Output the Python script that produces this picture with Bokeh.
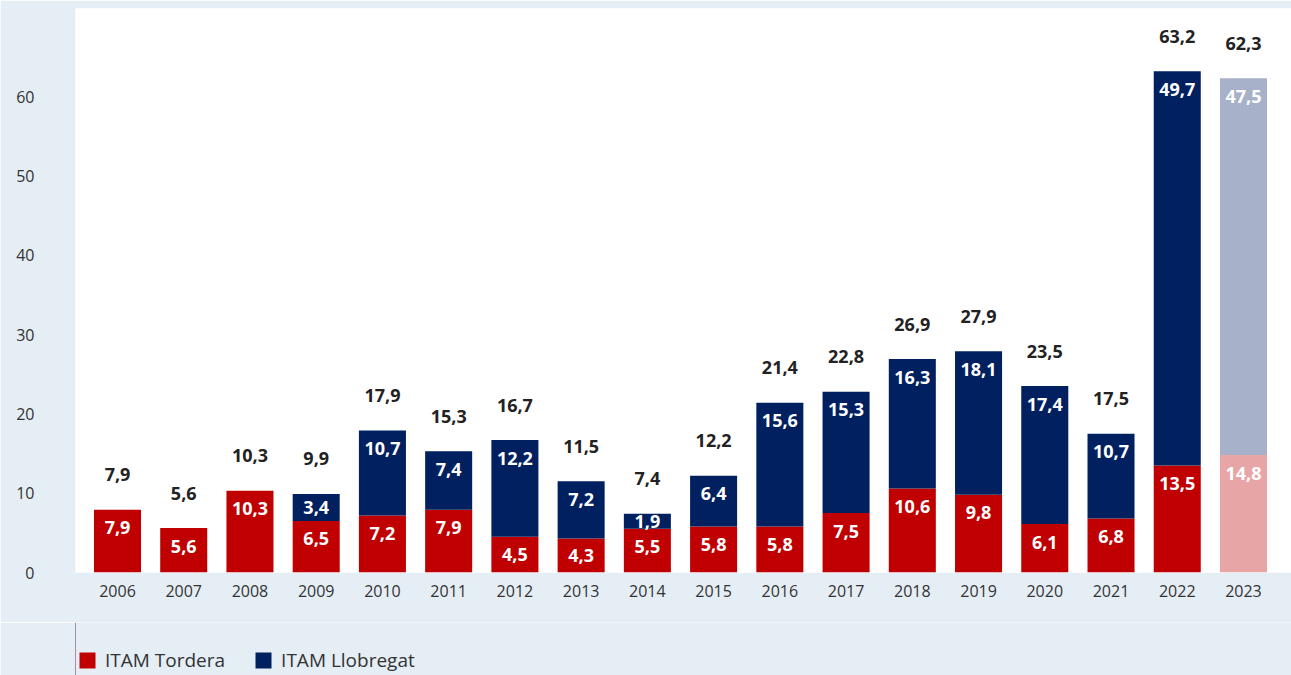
from bokeh.plotting import figure
from bokeh.models import ColumnDataSource, Range1d, FixedTicker, Legend, LegendItem
from bokeh.layouts import column
from bokeh.core.properties import value
from bokeh.embed import file_html
from bokeh.resources import INLINE

years = ["2006", "2007", "2008", "2009", "2010", "2011", "2012", "2013", "2014",
         "2015", "2016", "2017", "2018", "2019", "2020", "2021", "2022", "2023"]
tordera = [7.9, 5.6, 10.3, 6.5, 7.2, 7.9, 4.5, 4.3, 5.5, 5.8, 5.8, 7.5, 10.6, 9.8, 6.1, 6.8, 13.5, 14.8]
llobregat = [0, 0, 0, 3.4, 10.7, 7.4, 12.2, 7.2, 1.9, 6.4, 15.6, 15.3, 16.3, 18.1, 17.4, 10.7, 49.7, 47.5]
totals = [7.9, 5.6, 10.3, 9.9, 17.9, 15.3, 16.7, 11.5, 7.4, 12.2, 21.4, 22.8, 26.9, 27.9, 23.5, 17.5, 63.2, 62.3]
series_names = ["ITAM Tordera", "ITAM Llobregat"]
y_ticks = [0, 10, 20, 30, 40, 50, 60]
provisional_year = "2023"

RED, NAVY = "#c00000", "#00205f"
RED_L, NAVY_L = "#e8a5a6", "#a7b1c9"
BG = "#e5edf5"
FONT = "Open Sans"

YMAX = 71.1
FRAME_H = 564
FRAME_W = 1216
ppu = FRAME_H / YMAX

def fmt(v):
    return f"{v:.1f}".replace(".", ",")

xs = list(range(len(years)))
red_col = [RED_L if y == provisional_year else RED for y in years]
navy_col = [NAVY_L if y == provisional_year else NAVY for y in years]
top_all = [t + l for t, l in zip(tordera, llobregat)]

src = ColumnDataSource(dict(
    x=xs, t=tordera, top=top_all, rc=red_col, nc=navy_col,
))

p = figure(frame_width=FRAME_W, frame_height=FRAME_H, output_backend="svg", toolbar_location=None,
           x_range=Range1d(-0.634, 17.725), y_range=Range1d(0, YMAX),
           min_border_left=75, min_border_right=0, min_border_top=8, min_border_bottom=50)
p.border_fill_color = BG
p.background_fill_color = "white"
p.outline_line_color = None
p.grid.visible = False

p.vbar(x="x", bottom=0, top="t", width=0.71, fill_color="rc", line_color=None, source=src)
p.vbar(x="x", bottom="t", top="top", width=0.71, fill_color="nc", line_color=None, source=src)

# inner labels
off = 18 / ppu
rl_x, rl_y, rl_t = [], [], []
for i, (t, l) in enumerate(zip(tordera, llobregat)):
    rl_x.append(i); rl_y.append(max(t - off, t / 2)); rl_t.append(fmt(t))
    if l > 0:
        top = t + l
        rl_x.append(i); rl_y.append(max(top - off, t + l / 2)); rl_t.append(fmt(l))
p.text(x=rl_x, y=rl_y, text=rl_t, text_align="center", text_baseline="middle",
       text_color="white", text_font=value(FONT), text_font_style="bold", text_font_size="18px")

# totals
p.text(x=xs, y=top_all, text=[fmt(v) for v in totals], y_offset=-35,
       text_align="center", text_baseline="middle", text_color="#222222",
       text_font=value(FONT), text_font_style="bold", text_font_size="18px")

# axes
p.xaxis.ticker = FixedTicker(ticks=xs)
p.xaxis.major_label_overrides = {i: y for i, y in enumerate(years)}
p.yaxis.ticker = FixedTicker(ticks=y_ticks)
for ax in (p.xaxis, p.yaxis):
    ax.axis_line_color = None
    ax.major_tick_line_color = None
    ax.minor_tick_line_color = None
    ax.major_label_text_font = FONT
    ax.major_label_text_font_size = "16px"
    ax.major_label_text_color = "#333333"
p.xaxis.major_label_standoff = 6
p.yaxis.major_label_standoff = 35

# legend strip (a second figure, stacked below)
lf = figure(width=1291, height=53, output_backend="svg", toolbar_location=None,
            x_axis_type=None, y_axis_type=None, x_range=Range1d(0, 1), y_range=Range1d(0, 1),
            min_border=0, min_border_left=0, min_border_right=0, min_border_top=0, min_border_bottom=0)
lf.border_fill_color = BG
lf.background_fill_color = BG
lf.outline_line_color = None
lf.grid.visible = False
# swatch renderers sit outside the visible range; only their legend glyphs show
lr1 = lf.vbar(x=[-5], bottom=[0], top=[1], width=0.1, fill_color=RED, line_color=None)
lr2 = lf.vbar(x=[-5], bottom=[0], top=[1], width=0.1, fill_color=NAVY, line_color=None)
legend = Legend(items=[LegendItem(label=series_names[0], renderers=[lr1], index=0),
                       LegendItem(label=series_names[1], renderers=[lr2], index=0)],
                orientation="horizontal", location=(2, 2),
                glyph_width=20, glyph_height=20, label_standoff=8, spacing=28,
                label_text_font=FONT, label_text_font_size="19px", label_text_color="#333333",
                background_fill_alpha=0, border_line_color=None, padding=0, margin=0)
lf.add_layout(legend, "center")

layout = column(p, lf, spacing=0)
open("out.html", "w").write(file_html(layout, INLINE))
